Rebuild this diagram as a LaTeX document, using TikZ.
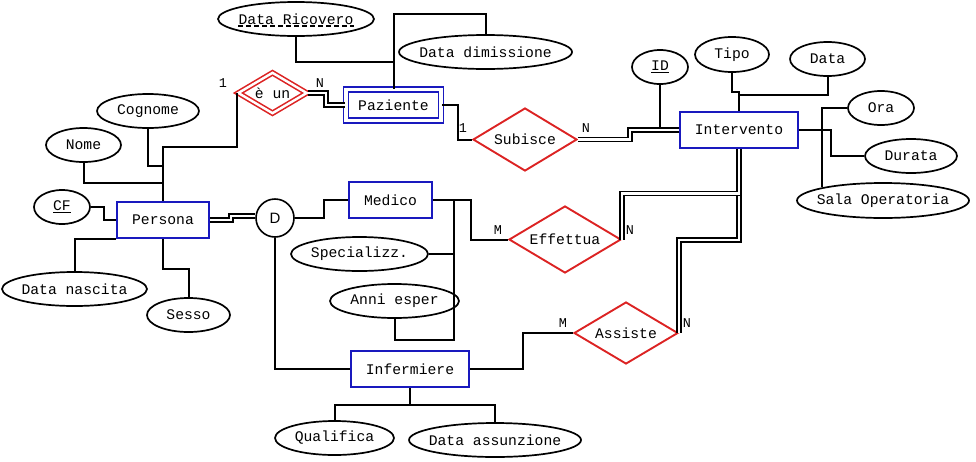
\documentclass[tikz,border=0pt]{standalone}
\usepackage{fontspec}
\setmainfont{Liberation Mono}
\newfontfamily\sansD{Liberation Sans}
\usetikzlibrary{shapes.geometric}
\definecolor{blu}{RGB}{25,25,190}
\definecolor{rosso}{RGB}{220,35,35}
\newcommand{\etich}[1]{\makebox[0pt]{#1}}

\tikzset{
  entita/.style={draw=blu,line width=2pt,rectangle,inner sep=0pt,minimum height=36pt},
  relaz/.style={draw=rosso,line width=1.9pt,diamond,aspect=1.65,inner sep=0pt},
  attr/.style={draw,line width=1.7pt,ellipse,inner sep=0pt,minimum height=34pt},
  lk/.style={line width=2pt},
  dl/.style={line width=1.4pt,double,double distance=2.6pt},
  card/.style={inner sep=0pt,font=\fontsize{13.5}{14}\selectfont}
}

\begin{document}
\begin{tikzpicture}[x=1pt,y=-1pt,font=\fontsize{14.7}{16}\selectfont]
        %\draw[very thin,gray!40,step=20] (0,0) grid (976,461) ;
        \useasboundingbox (0,0) rectangle (976,461) ;
        % entita
        \node[entita,minimum width=92pt] (persona) at (163,220) {Persona} ;
        \node[entita,minimum width=95pt,minimum height=31pt,double=white,double distance=3.2pt,line width=1.8pt] (paziente) at (393.5,105) {Paziente} ;
        \node[entita,minimum width=83pt] (medico) at (390.5,200) {Medico} ;
        \node[entita,minimum width=118pt] (infermiere) at (410,369) {Infermiere} ;
        \node[entita,minimum width=118pt] (intervento) at (739,130) {Intervento} ;
        % relazioni
        \node[relaz,double=white,double distance=2.4pt,line width=1.6pt,minimum width=69pt,minimum height=41pt] (eun) at (272.5,93) {è un} ;
        \node[relaz,minimum width=104pt,minimum height=63pt] (subisce) at (525,139.5) {Subisce} ;
        \node[relaz,minimum width=112pt,minimum height=67pt] (effettua) at (565,239.5) {Effettua} ;
        \node[relaz,minimum width=104pt,minimum height=62pt] (assiste) at (626,333) {Assiste} ;
        \node[draw,circle,line width=1.6pt,minimum size=38pt,inner sep=0pt,font=\sansD\fontsize{15}{15}\selectfont] (dgen) at (275,218) {D} ;
        % attributi
        \node[attr,minimum width=156pt] (dataric) at (296,19) {\etich{Data Ricovero}} ;
        \draw[dash pattern=on 5pt off 3pt,line width=1.4pt] ([xshift=-58pt,yshift=-7pt]dataric.center) -- ([xshift=58pt,yshift=-7pt]dataric.center) ;
        \node[attr,minimum width=173pt] (datadim) at (485.5,52) {\etich{Data dimissione}} ;
        \node[attr,minimum width=102pt] (cognome) at (148,111) {\etich{Cognome}} ;
        \node[attr,minimum width=75pt] (nome) at (83.5,145) {\etich{Nome}} ;
        \node[attr,minimum width=56pt] (cf) at (62,207) {\etich{\underline{CF}}} ;
        \node[attr,minimum width=145pt] (datanasc) at (74.5,289) {\etich{Data nascita}} ;
        \node[attr,minimum width=83pt] (sesso) at (188.5,315) {\etich{Sesso}} ;
        \node[attr,minimum width=137pt] (special) at (359.5,254) {\etich{Specializz.}} ;
        \node[attr,minimum width=129pt] (anni) at (394.5,301) {\etich{Anni esper}} ;
        \node[attr,minimum width=119pt] (qualifica) at (334.5,438) {\etich{Qualifica}} ;
        \node[attr,minimum width=172pt] (dataass) at (495,440) {\etich{Data assunzione}} ;
        \node[attr,minimum width=56pt] (id) at (660,67) {\etich{\underline{ID}}} ;
        \node[attr,minimum width=74pt,minimum height=35pt] (tipo) at (732,54.5) {\etich{Tipo}} ;
        \node[attr,minimum width=75pt] (data) at (827.5,59) {\etich{Data}} ;
        \node[attr,minimum width=66pt] (ora) at (881,108) {\etich{Ora}} ;
        \node[attr,minimum width=92pt] (durata) at (911,156) {\etich{Durata}} ;
        \node[attr,minimum width=172pt,minimum height=35pt] (sala) at (883,200.5) {\etich{Sala Operatoria}} ;
        % collegamenti attributi
        \draw[lk] (dataric.south) |- (paziente.north |- 0,62) ;
        \draw[lk] (paziente.north) -- (paziente.north |- 0,14) -| (datadim.north) ;
        \draw[lk] (cognome.south) |- (persona.north |- 0,166) ;
        \draw[lk] (nome.south) |- (persona.north |- 0,183) ;
        \draw[lk] (cf.east) -- ++(13,0) |- (persona.west) ;
        \draw[lk] (persona.south west) -| (datanasc.north) ;
        \draw[lk] (persona.south) -- ++(0,30) -| (sesso.north) ;
        \draw[lk] (special.east) -- ++(25,0) ;
        \draw[lk] (anni.south) -- ++(0,21) -| ([xshift=21pt]medico.east) ;
        \draw[lk] (infermiere.south) -- ++(0,17) coordinate (inf1) ;
        \draw[lk] (qualifica.north) |- (inf1) -| (dataass.north) ;
        \draw[lk] (id.south) |- ([yshift=2pt]intervento.west) ;
        \draw[lk] (tipo.south) -- ++(0,19) -| (intervento.north) ;
        \draw[lk] (data.south) |- (intervento.north |- 0,95) ;
        \draw[lk] (intervento.east) -- ++(32,0) |- (durata.west) ;
        \draw[lk] (ora.west) -| ([xshift=-61pt,yshift=-5pt]sala.north) ;
        % gerarchia
        \draw[dl] (persona.east) -- ++(21,0) |- ([yshift=2pt]dgen.west) ;
        \draw[lk] (dgen.east) -- ++(29,0) |- (medico.west) ;
        \draw[lk] (dgen.south) |- (infermiere.west) ;
        % relazioni
        \draw[lk] (eun.west) -- (eun.west |- 0,147) -| (persona.north) ;
        \draw[dl] (eun.east) -- ++(18,0) |- (paziente.west) ;
        \draw[lk] (paziente.east) -- ++(16,0) |- (subisce.west) ;
        \draw[dl] (subisce.east) -- ++(52,0) |- (intervento.west) ;
        \draw[lk] (medico.east) -- ++(38,0) |- (effettua.west) ;
        \draw[lk] (infermiere.east) -- ++(53,0) |- (assiste.west) ;
        \draw[dl] (assiste.east) -- ++(0,-93) -| (intervento.south) ;
        \draw[dl] (effettua.east) -- ++(0,-46) -| (intervento.south) ;
        % cardinalita
        \node[card] (c1) at (223,83) {1} ;
        \node[card] (c2) at (320,83) {N} ;
        \node[card] (c3) at (463,128) {1} ;
        \node[card] (c4) at (586,128) {N} ;
        \node[card] (c5) at (498,230) {M} ;
        \node[card] (c6) at (630,230) {N} ;
        \node[card] (c7) at (563,323) {M} ;
        \node[card] (c8) at (687,323) {N} ;
      \end{tikzpicture}
\end{document}
